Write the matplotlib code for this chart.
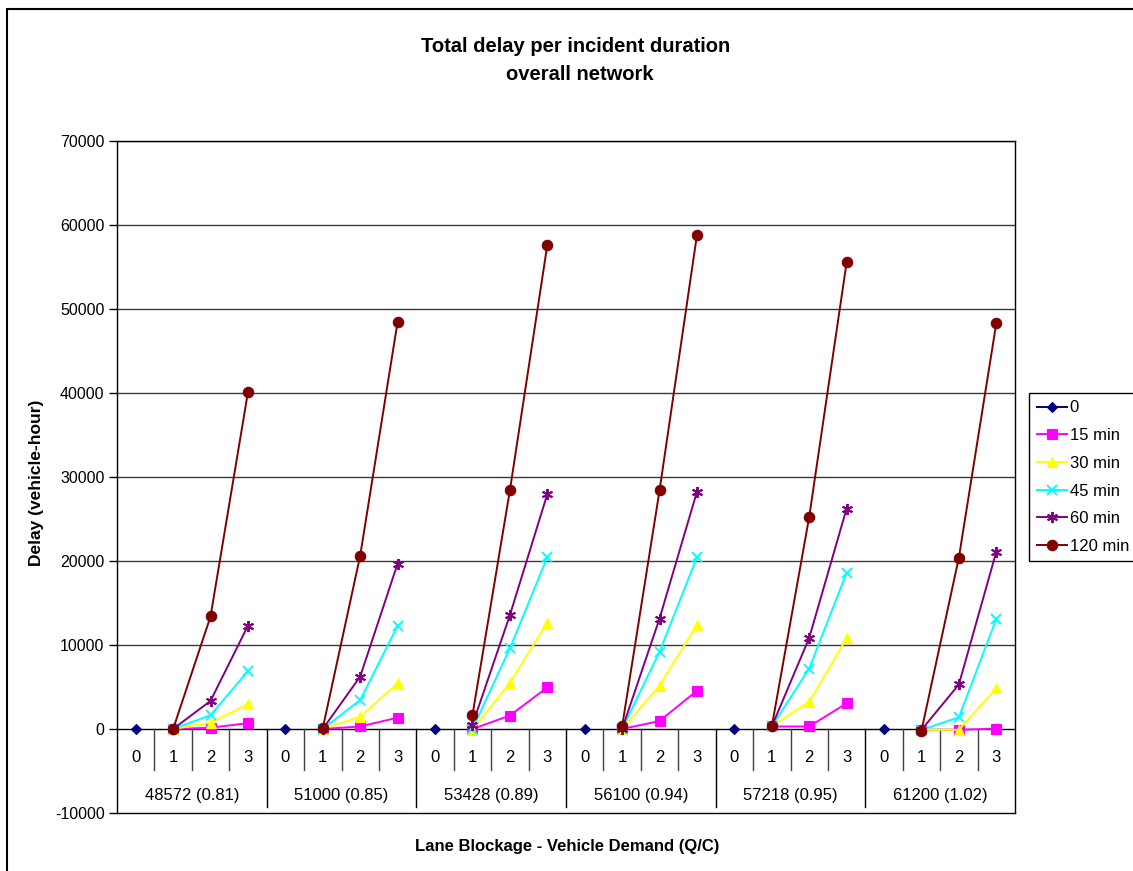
import numpy as np
import matplotlib
matplotlib.use("Agg")
import matplotlib.pyplot as plt
from matplotlib.patches import Rectangle

plt.rcParams['font.family'] = ['Liberation Sans', 'DejaVu Sans']
plt.rcParams['axes.unicode_minus'] = False

# Demand groups (vehicles, Q/C) and lane blockage levels
groups = ["48572 (0.81)", "51000 (0.85)", "53428 (0.89)",
          "56100 (0.94)", "57218 (0.95)", "61200 (1.02)"]
lanes = ["0", "1", "2", "3"]

series_names = ["0", "15 min", "30 min", "45 min", "60 min", "120 min"]

# Delay (vehicle-hour) for blocked lanes 1, 2, 3 in each demand group
no_incident = [0, 0, 0, 0, 0, 0]            # lane 0 for every group
d15 = [[0, 150, 700], [0, 300, 1350], [0, 1600, 4950],
       [0, 950, 4550], [300, 300, 3050], [-150, -100, 50]]
d30 = [[0, 750, 2950], [0, 1450, 5450], [-100, 5500, 12650],
       [0, 5150, 12400], [300, 3250, 10800], [-100, -100, 4850]]
d45 = [[0, 1650, 6900], [0, 3450, 12300], [0, 9600, 20450],
       [0, 9200, 20450], [300, 7200, 18600], [-100, 1400, 13100]]
d60 = [[0, 3350, 12300], [0, 6250, 19700], [500, 13550, 27950],
       [0, 13150, 28250], [300, 10850, 26250], [-100, 5300, 21100]]
d120 = [[0, 13400, 40100], [100, 20650, 48500], [1650, 28400, 57600],
        [300, 28400, 58800], [300, 25250, 55550], [-200, 20400, 48300]]

colors = ["#000080", "#FF00FF", "#FFFF00", "#00FFFF", "#800080", "#800000"]
markers = ["D", "s", "^", "x", (6, 2, 0), "o"]
msizes = [5.5, 7, 7.5, 7, 8, 7.5]

n_lanes = len(lanes)
n_cat = len(groups) * n_lanes
x = np.arange(n_cat)


def lane0_series(vals):
    y = np.full(n_cat, np.nan)
    for g, v in enumerate(vals):
        y[g * n_lanes] = v
    return y


def blocked_series(vals):
    y = np.full(n_cat, np.nan)
    for g, trio in enumerate(vals):
        for k, v in enumerate(trio):
            y[g * n_lanes + 1 + k] = v
    return y


series = [lane0_series(no_incident)] + [blocked_series(d) for d in (d15, d30, d45, d60, d120)]

W, H = 1133, 871
fig = plt.figure(figsize=(W / 100, H / 100), dpi=100)
fig.patch.set_facecolor("white")

# chart-area border
fig.patches.append(Rectangle((7 / W, -0.1), 1.2, 1 - 9 / H + 0.1, transform=fig.transFigure,
                             fill=False, edgecolor="black", linewidth=1.5))

ax = fig.add_axes([117 / W, 1 - 813 / H, (1015 - 117) / W, (813 - 141) / H])
ax.set_xlim(-0.5, n_cat - 0.5)
ax.set_ylim(-10000, 70000)

for yv in range(10000, 70001, 10000):
    ax.axhline(yv, color="#3a3a3a", linewidth=1.0, zorder=1)
ax.axhline(0, color="black", linewidth=1.0, zorder=1)

for s in ax.spines.values():
    s.set_color("black")
    s.set_linewidth(1.0)

ax.set_yticks(range(-10000, 70001, 10000))
ax.tick_params(axis="y", direction="out", length=6, width=1, labelsize=11.5, pad=3)
ax.set_xticks([])

# category axis: lane labels, group labels and separators
px = 10000 / 84.0
inner_bottom = -(770 - 729) * px
group_bottom = -(807 - 729) * px
for k in range(n_cat - 1):
    xb = k + 0.5
    if (k + 1) % n_lanes == 0:
        ax.plot([xb, xb], [0, group_bottom], color="black", linewidth=1.0, zorder=1)
    else:
        ax.plot([xb, xb], [0, inner_bottom], color="#404040", linewidth=1.0, zorder=1)
for k in range(n_cat):
    ax.text(k, -(757 - 729) * px, lanes[k % n_lanes], ha="center", va="center", fontsize=12)
for g, name in enumerate(groups):
    ax.text(g * n_lanes + (n_lanes - 1) / 2, -(795 - 729) * px, name,
            ha="center", va="center", fontsize=12)

handles = []
for name, y, c, m, ms in zip(series_names, series, colors, markers, msizes):
    filled = m not in ("x", (6, 2, 0))
    h, = ax.plot(x, y, color=c, linewidth=1.4, marker=m, markersize=ms,
                 markerfacecolor=c if filled else "none", markeredgecolor=c,
                 markeredgewidth=1.4 if not filled else 0.8, label=name,
                 zorder=3, clip_on=False)
    handles.append(h)

fig.text(576 / W, 1 - 46 / H, "Total delay per incident duration", ha="center", va="center",
         fontsize=14.5, fontweight="bold")
fig.text(580 / W, 1 - 74 / H, "overall network", ha="center", va="center",
         fontsize=14.5, fontweight="bold")
fig.text(37 / W, 1 - 483 / H, "Delay (vehicle-hour)", ha="center", va="center",
         rotation=90, fontsize=12.5, fontweight="bold")
fig.text(567 / W, 1 - 846 / H, "Lane Blockage - Vehicle Demand (Q/C)", ha="center",
         va="center", fontsize=12, fontweight="bold")

leg = fig.legend(handles=handles, loc="upper left", bbox_to_anchor=(1029 / W, 1 - 393 / H),
                 bbox_transform=fig.transFigure, fontsize=12, frameon=True,
                 fancybox=False, edgecolor="black", framealpha=1, borderaxespad=0,
                 handlelength=1.85, handletextpad=0.15, labelspacing=0.76, borderpad=0.45)
leg.get_frame().set_linewidth(1.0)

fig.savefig("out.png", dpi=100, facecolor="white")
